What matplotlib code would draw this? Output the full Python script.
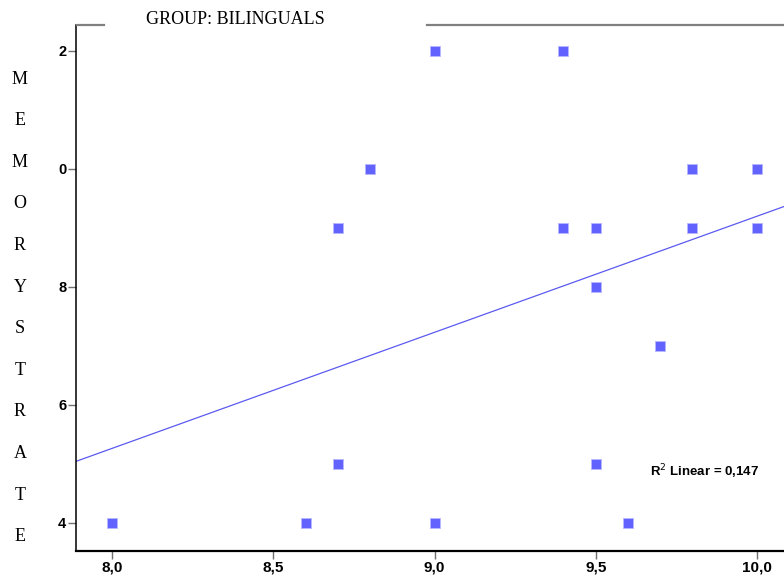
import numpy as np
import matplotlib
matplotlib.use("Agg")
import matplotlib.pyplot as plt
from matplotlib.lines import Line2D

# data
x = [8.0, 8.6, 8.7, 8.7, 8.8, 9.0, 9.0, 9.4, 9.4,
     9.5, 9.5, 9.5, 9.6, 9.7, 9.8, 9.8, 10.0, 10.0]
y = [4, 4, 9, 5, 10, 12, 4, 12, 9,
     9, 8, 5, 4, 7, 10, 9, 10, 9]
xticks = [8.0, 8.5, 9.0, 9.5, 10.0]
xticklabels = ["8,0", "8,5", "9,0", "9,5", "10,0"]
yticks = [4, 6, 8, 10, 12]
yticklabels = ["4", "6", "8", "0", "2"]  # clipped in the original
r2_label = "R$^2$ Linear = 0,147"

fig = plt.figure(figsize=(7.84, 5.77), dpi=100)
ax = fig.add_axes([76/784, 26/577, 1 - 76/784, (551-25)/577])

ax.scatter(x, y, marker="s", s=55, color="#6262ff", edgecolors="#b8b8ff",
           linewidths=0.6, zorder=3)

b, a = np.polyfit(x, y, 1)
xl = np.array([7.85, 10.2])
ax.plot(xl, a + b*xl, color="#5a5af0", lw=0.9, zorder=2)

ax.set_xlim(7.888, 10.084)
ax.set_ylim(3.525, 12.44)

for s in ["top", "right"]:
    ax.spines[s].set_visible(False)
ax.spines["left"].set_linewidth(1.1)
ax.spines["bottom"].set_linewidth(1.6)

sans = ["Liberation Sans", "DejaVu Sans"]
ax.set_xticks(xticks)
ax.set_xticklabels(xticklabels, fontfamily=sans, fontweight="bold", fontsize=11)
ax.set_yticks(yticks)
ax.set_yticklabels(yticklabels, fontfamily=sans, fontweight="bold", fontsize=10.5)
ax.tick_params(axis="both", length=6, width=1, color="#707070", pad=1)

ax.text(9.668, 4.87, r2_label, fontfamily=sans, fontweight="bold", fontsize=9.5,
        va="center", ha="left")

# top frame line broken by the group title
for x0, x1 in [(77, 104), (427, 784)]:
    fig.add_artist(Line2D([x0/784, x1/784], [1 - 25/577]*2, color="#808080",
                          lw=1.6, transform=fig.transFigure))
fig.text(235/784, 1 - 19/577, "GROUP: BILINGUALS", fontfamily="Liberation Serif",
         fontsize=13, ha="center", va="center")

letters = "MEMORYSTRATE"
for i, ch in enumerate(letters):
    fig.text(20/784, 1 - (79 + i*41.6)/577, ch, fontfamily="Liberation Serif",
             fontsize=13, ha="center", va="center")

fig.savefig("out.png", dpi=100)
